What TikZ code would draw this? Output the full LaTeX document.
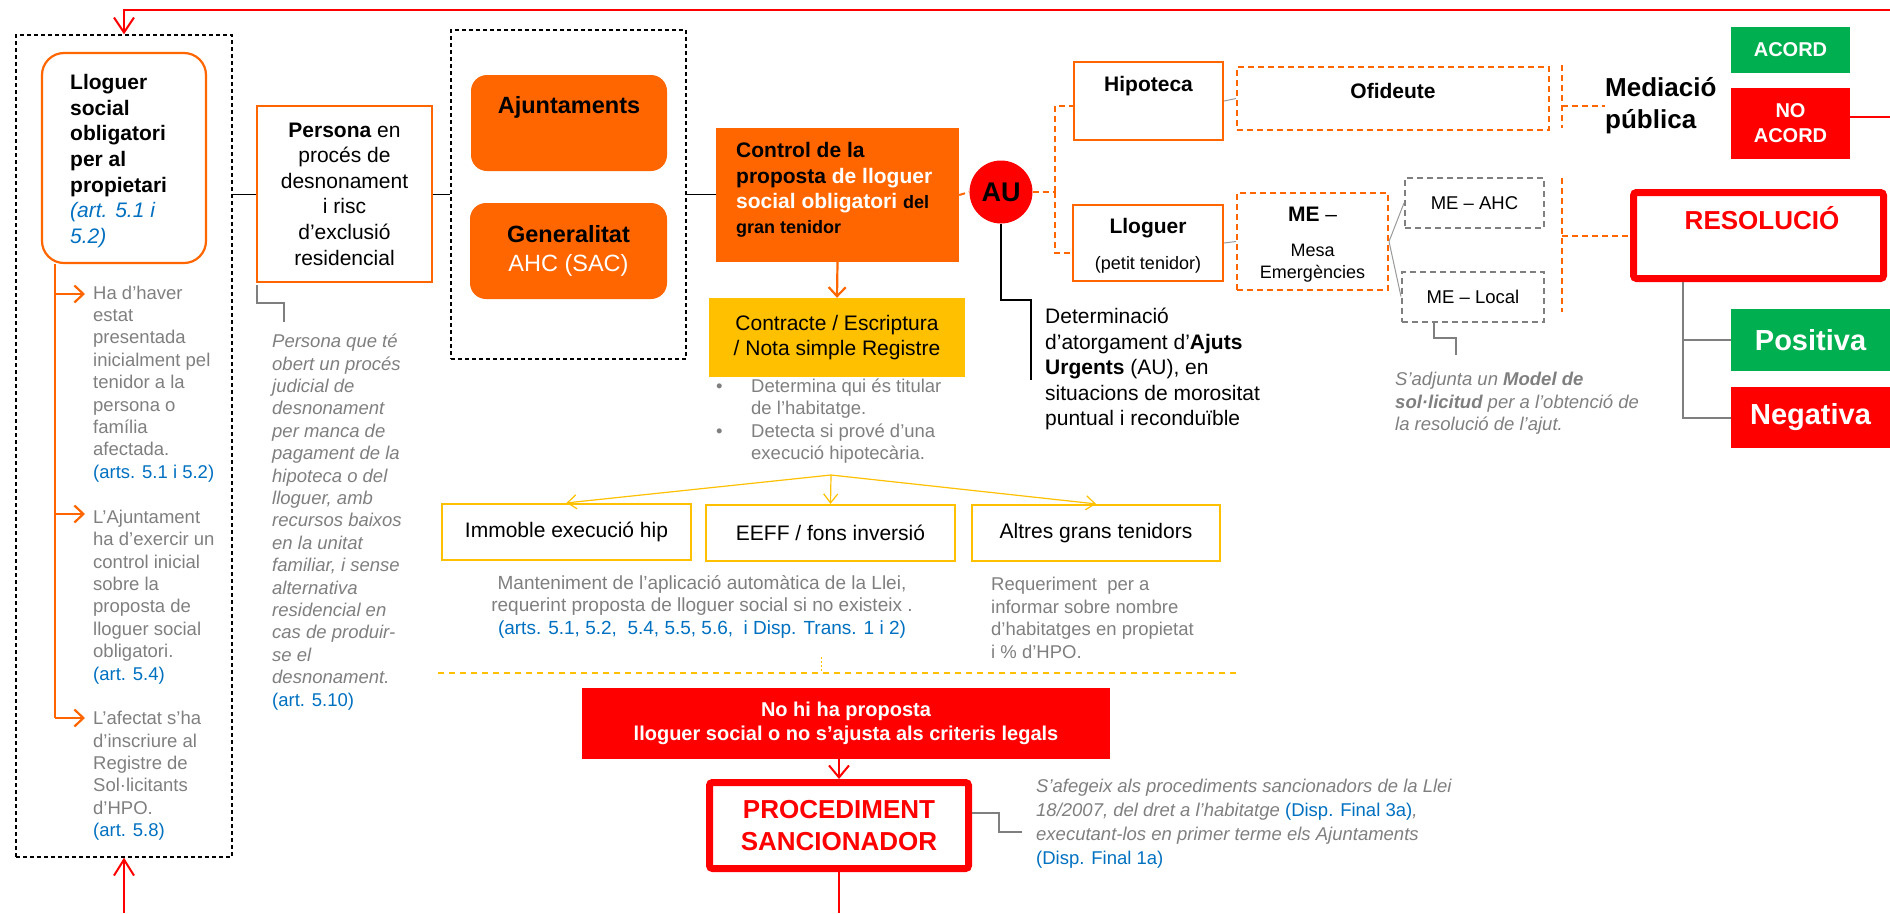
\documentclass[tikz,border=0pt]{standalone}
\usepackage{fontspec}
\setmainfont{Liberation Sans}
\usetikzlibrary{arrows.meta}
\definecolor{orng}{HTML}{FF6600}
\definecolor{ylw}{HTML}{FFC000}
\definecolor{rd}{HTML}{FF0000}
\definecolor{grn}{HTML}{00B050}
\definecolor{gtxt}{HTML}{7F7F7F}
\definecolor{blu}{HTML}{0070C0}
\newcommand{\fsz}[2]{\fontsize{#1}{#2}\selectfont}
\newcommand{\artref}[1]{\textcolor{blu}{#1}}
\begin{document}
\begin{tikzpicture}[x=1pt,y=-1pt,inner sep=0pt,
  dbox/.style={draw,line width=1.3pt,dash pattern=on 4pt off 3pt},
  obox/.style={draw=orng,line width=2.2pt,fill=white},
  ofill/.style={fill=orng,rounded corners=16pt},
  odbox/.style={draw=orng,line width=2pt,dash pattern=on 6pt off 4pt},
  gdbox/.style={draw=gtxt,line width=2pt,dash pattern=on 6pt off 4pt},
  ybox/.style={draw=ylw,line width=2.2pt,font=\fsz{21}{25}},
  rbox/.style={draw=rd,line width=7pt,fill=white,rounded corners=3pt},
  gnote/.style={anchor=west,align=left,text=gtxt,font=\fsz{18.5}{22.4}},
  oline/.style={draw=orng,line width=2.2pt},
  otip/.style={-{Straight Barb[length=9pt,width=17pt]}},
  odash/.style={draw=orng,line width=2pt,dash pattern=on 6pt off 4pt},
  gline/.style={draw=gtxt,line width=2pt},
  tline/.style={draw=gtxt!80,line width=1pt},
  kline/.style={draw=black,line width=1pt},
  rline/.style={draw=rd,line width=2pt},
  yline/.style={draw=ylw,line width=1.2pt,-{Straight Barb[length=9pt,width=14pt]}},
  ydash/.style={draw=ylw,line width=2pt,dash pattern=on 6pt off 5pt}]
\useasboundingbox (0,0) rectangle (1890,913);

\node[dbox,minimum width=216pt,minimum height=822pt] (lsbox) at (124,446) {};
\node[obox,rounded corners=22pt,minimum width=164pt,minimum height=210pt] (lloc) at (124,158) {};
\node[anchor=west,align=left,font=\bfseries\fsz{21}{25.7}] (lloctx) at (70,161)
  {Lloguer\\social\\obligatori\\per al\\propietari\\{\mdseries\itshape\color{blu}(art. 5.1 i}\\{\mdseries\itshape\color{blu}5.2)}};
\coordinate (stem) at (55,263);
\coordinate (a1) at (85,294);
\coordinate (a2) at (85,514);
\coordinate (a3) at (85,718);
\node[gnote] (note1) at (93,384) {Ha d’haver\\estat\\presentada\\inicialment pel\\tenidor a la\\persona o\\família\\afectada.\\\artref{(arts. 5.1 i 5.2)}};
\node[gnote] (note2) at (93,597) {L’Ajuntament\\ha d’exercir un\\control inicial\\sobre la\\proposta de\\lloguer social\\obligatori.\\\artref{(art. 5.4)}};
\node[gnote] (note3) at (93,776) {L’afectat s’ha\\d’inscriure al\\Registre de\\Sol·licitants\\d’HPO.\\\artref{(art. 5.8)}};
\coordinate (lbot) at (124,913);

\node[obox,minimum width=175pt,minimum height=176pt,align=center,font=\fsz{21}{25.6}] (pers) at (344.5,194)
  {\textbf{Persona} en\\procés de\\desnonament\\i risc\\d’exclusió\\residencial};
\coordinate (pbm) at (284,303);
\coordinate (pb) at (284,322);
\node[gnote,font=\itshape\fsz{18.5}{22.4}] (pnote) at (272,522)
  {Persona que té\\obert un procés\\judicial de\\desnonament\\per manca de\\pagament de la\\hipoteca o del\\lloguer, amb\\recursos baixos\\en la unitat\\familiar, i sense\\alternativa\\residencial en\\cas de produir-\\se el\\desnonament.\\{\upshape\artref{(art. 5.10)}}};

\node[dbox,minimum width=235pt,minimum height=329pt] (mbox) at (568.5,194.5) {};
\node[ofill,minimum width=196pt,minimum height=96pt] (ajun) at (569,123) {};
\node[font=\bfseries\fsz{23.5}{28}] (ajuntx) at (569,107) {Ajuntaments};
\node[ofill,minimum width=197pt,minimum height=96pt,align=center,font=\fsz{23.5}{29}] (gene) at (568.5,251)
  {\textbf{Generalitat}\\\textcolor{white}{AHC (SAC)}};

\node[fill=orng,minimum width=243pt,minimum height=134pt] (ctrl) at (837.5,195) {};
\node[anchor=west,align=left,font=\bfseries\fsz{21}{25.3}] (ctrltx) at (736,190)
  {Control de la\\proposta \textcolor{white}{de lloguer}\\\textcolor{white}{social obligatori} {\fsz{18}{25.3}del}\\{\fsz{18}{25.3}gran tenidor}};
\node[fill=ylw,minimum width=256pt,minimum height=79pt,align=center,font=\fsz{21}{25}] (cont) at (837,337.5)
  {Contracte / Escriptura\\/ Nota simple Registre};
\node[anchor=west,text=gtxt,font=\fsz{18.5}{22.4}] (bull) at (716,421.5)
  {\begin{tabular}{@{}p{35pt}@{}l@{}}•&Determina qui és titular\\&de l’habitatge.\\•&Detecta si prové d’una\\&execució hipotecària.\end{tabular}};
\coordinate (ysp) at (831,475);
\node[ybox,minimum width=249pt,minimum height=56pt] (imm) at (566.5,532) {Immoble execució hip};
\node[ybox,minimum width=249pt,minimum height=56pt] (eeff) at (830.5,533) {EEFF / fons inversió};
\node[ybox,minimum width=248pt,minimum height=56pt] (altr) at (1096,533) {Altres grans tenidors};
\node[align=center,text=gtxt,font=\fsz{19}{22.5}] (mant) at (702,606.5)
  {Manteniment de l’aplicació automàtica de la Llei,\\requerint proposta de lloguer social si no existeix .\\\artref{(arts. 5.1, 5.2,\ \ 5.4, 5.5, 5.6,\ \ i Disp. Trans. 1 i 2)}};
\node[gnote,font=\fsz{18.5}{22.6}] (req) at (991,618)
  {Requeriment\ \ per a\\informar sobre nombre\\d’habitatges en propietat\\i \% d’HPO.};
\coordinate (yl) at (438,673);
\coordinate (yr) at (1238,673);
\coordinate (yt) at (821,657);

\node[fill=rd,minimum width=528pt,minimum height=71pt,align=center,text=white,font=\bfseries\fsz{20}{24}] (nohi) at (846,723.5)
  {No hi ha proposta\\lloguer social o no s’ajusta als criteris legals};
\node[rbox,minimum width=259pt,minimum height=86pt,align=center,text=rd,font=\bfseries\fsz{26}{32}] (proc) at (839,825.5)
  {PROCEDIMENT\\SANCIONADOR};
\coordinate (pbot) at (839,913);
\coordinate (pnm) at (999,832);
\coordinate (pnb) at (1022,832);
\node[gnote,font=\itshape\fsz{18.5}{24}] (pnote2) at (1036,824)
  {S’afegeix als procediments sancionadors de la Llei\\18/2007, del dret a l’habitatge {\upshape\artref{(Disp. Final 3a)}},\\executant-los en primer terme els Ajuntaments\\{\upshape\artref{(Disp. Final 1a)}}};

\node[circle,fill=rd,minimum size=63pt,font=\bfseries\fsz{27}{30}] (au) at (1001,192) {AU};
\coordinate (aufk) at (1055,192);
\coordinate (aum) at (1031,300);
\coordinate (aunb) at (1031,380);
\node[anchor=west,align=left,font=\fsz{21}{25.5}] (aunote) at (1045,369)
  {Determinació\\d’atorgament d’\textbf{Ajuts}\\\textbf{Urgents} (AU), en\\situacions de morositat\\puntual i reconduïble};

\node[obox,minimum width=149pt,minimum height=78pt] (hipo) at (1148.5,101) {};
\node[font=\bfseries\fsz{21}{25}] (hipotx) at (1148.5,86) {Hipoteca};
\node[obox,minimum width=150pt,minimum height=76pt] (llog) at (1148,243) {};
\node[align=center,font=\fsz{21}{36}] (llogtx) at (1148,246) {\textbf{Lloguer}\\{\fsz{18}{36}(petit tenidor)}};
\node[odbox,minimum width=312pt,minimum height=63pt] (ofid) at (1393,98.5) {};
\node[font=\bfseries\fsz{21}{25}] (ofidtx) at (1393,91) {Ofideute};
\coordinate (ob1) at (1562,65);
\coordinate (ob2) at (1562,128);
\node[anchor=west,align=left,font=\bfseries\fsz{26}{32}] (medi) at (1605,106) {Mediació\\pública};
\node[fill=grn,minimum width=119pt,minimum height=46pt,text=white,font=\bfseries\fsz{20}{25}] (acord) at (1790.5,50) {ACORD};
\node[fill=rd,minimum width=119pt,minimum height=71pt,align=center,text=white,font=\bfseries\fsz{20}{25}] (noac) at (1790.5,123.5) {NO\\ACORD};
\coordinate (rtr) at (1893,9.5);

\node[odbox,minimum width=151pt,minimum height=97pt] (meb) at (1312.5,241.5) {};
\node[align=center,font=\fsz{18}{22}] (mebtx) at (1312.5,245) {{\fsz{21}{22}\textbf{ME} –}\\[13pt]Mesa\\Emergències};
\node[gdbox,minimum width=139pt,minimum height=50pt,font=\fsz{18.5}{22}] (mahc) at (1474.5,203) {ME – AHC};
\node[gdbox,minimum width=142pt,minimum height=50pt,font=\fsz{18.5}{22}] (mloc) at (1473,296.5) {ME – Local};
\coordinate (mb1) at (1562,178);
\coordinate (mb2) at (1562,312);
\coordinate (mlm) at (1456,338);
\coordinate (mlb) at (1456,355);
\node[gnote,font=\itshape\fsz{18.5}{22.5}] (adnote) at (1395,403.5)
  {S’adjunta un \textbf{Model de}\\\textbf{sol·licitud} per a l’obtenció de\\la resolució de l’ajut.};
\node[rbox,minimum width=250pt,minimum height=86pt] (reso) at (1758.5,235.5) {};
\node[text=rd,font=\bfseries\fsz{26}{30}] (resotx) at (1762,218) {RESOLUCIÓ};
\node[fill=grn,minimum width=159pt,minimum height=62pt,text=white,font=\bfseries\fsz{29}{32}] (posi) at (1810.5,340) {Positiva};
\node[fill=rd,minimum width=159pt,minimum height=61pt,text=white,font=\bfseries\fsz{29}{32}] (nega) at (1810.5,417.5) {Negativa};

\begin{scope}
  \draw[oline] (lloc.south -| stem) -- (stem |- a3);
  \draw[oline,otip] (stem |- a1) -- (a1);
  \draw[oline,otip] (stem |- a2) -- (a2);
  \draw[oline,otip] (stem |- a3) -- (a3);
  \draw[kline] (lsbox.east |- pers.west) -- (pers.west);
  \draw[kline] (pers.east) -- (mbox.west |- pers.east);
  \draw[kline] (mbox.east) -- (ctrl.west |- mbox.east);
  \draw[gline] ([xshift=1pt,yshift=-2pt]pers.south west) |- (pbm) -- (pb);
  \draw[oline,otip] (ctrl.south) -- (cont.north);
  \draw[yline] (ysp) -- (imm.north);
  \draw[yline] (ysp) -- (eeff.north);
  \draw[yline] (ysp) -- (altr.north);
  \draw[ydash] (yl) -- (yr);
  \draw[ylw,line width=1pt,dash pattern=on 2pt off 2pt] (yt) -- (yt |- yl);
  \draw[rline,-{Straight Barb[length=12pt,width=20pt]}] (nohi.south -| proc.north) -- (proc.north);
  \draw[rline] (proc.south) -- (pbot);
  \draw[gline] ([yshift=12.5pt]proc.east) -| (pnm) -- (pnb);
  \draw[odash] (ctrl.east) -- (au.west);
  \draw[odash] (au.east) -- (aufk);
  \draw[odash] (aufk) |- ([yshift=-5pt]hipo.west);
  \draw[odash] (aufk) |- ([yshift=-10pt]llog.west);
  \draw[draw=black,line width=2pt] (au.south) |- (aum) -- (aunb);
  \draw[tline] (hipo.east) -- (ofid.west);
  \draw[odash] (ob1) -- (ob2);
  \draw[odash] (ob1 |- medi.west) -- (medi.west);
  \draw[rline,-{Straight Barb[length=15pt,width=20pt]}] ([yshift=6.5pt]noac.east) -| (rtr) -- (rtr -| lsbox.north) -- (lsbox.north);
  \draw[rline,-{Straight Barb[length=16pt,width=20pt]}] (lbot) -- (lsbox.south);
  \draw[tline] (llog.east) -- (meb.west);
  \draw[tline] (meb.east) -- (mahc.west);
  \draw[tline] (meb.east) -- (mloc.west);
  \draw[odash] (mb1) -- (mb2);
  \draw[odash] (mb1 |- reso.west) -- (reso.west);
  \draw[gline] ([xshift=-39pt]mloc.south) |- (mlm) -- (mlb);
  \draw[gline] ([xshift=-75.5pt]reso.south) |- (posi.west);
  \draw[gline] ([xshift=-75.5pt]reso.south) |- (nega.west);
\end{scope}
\end{tikzpicture}
\end{document}
